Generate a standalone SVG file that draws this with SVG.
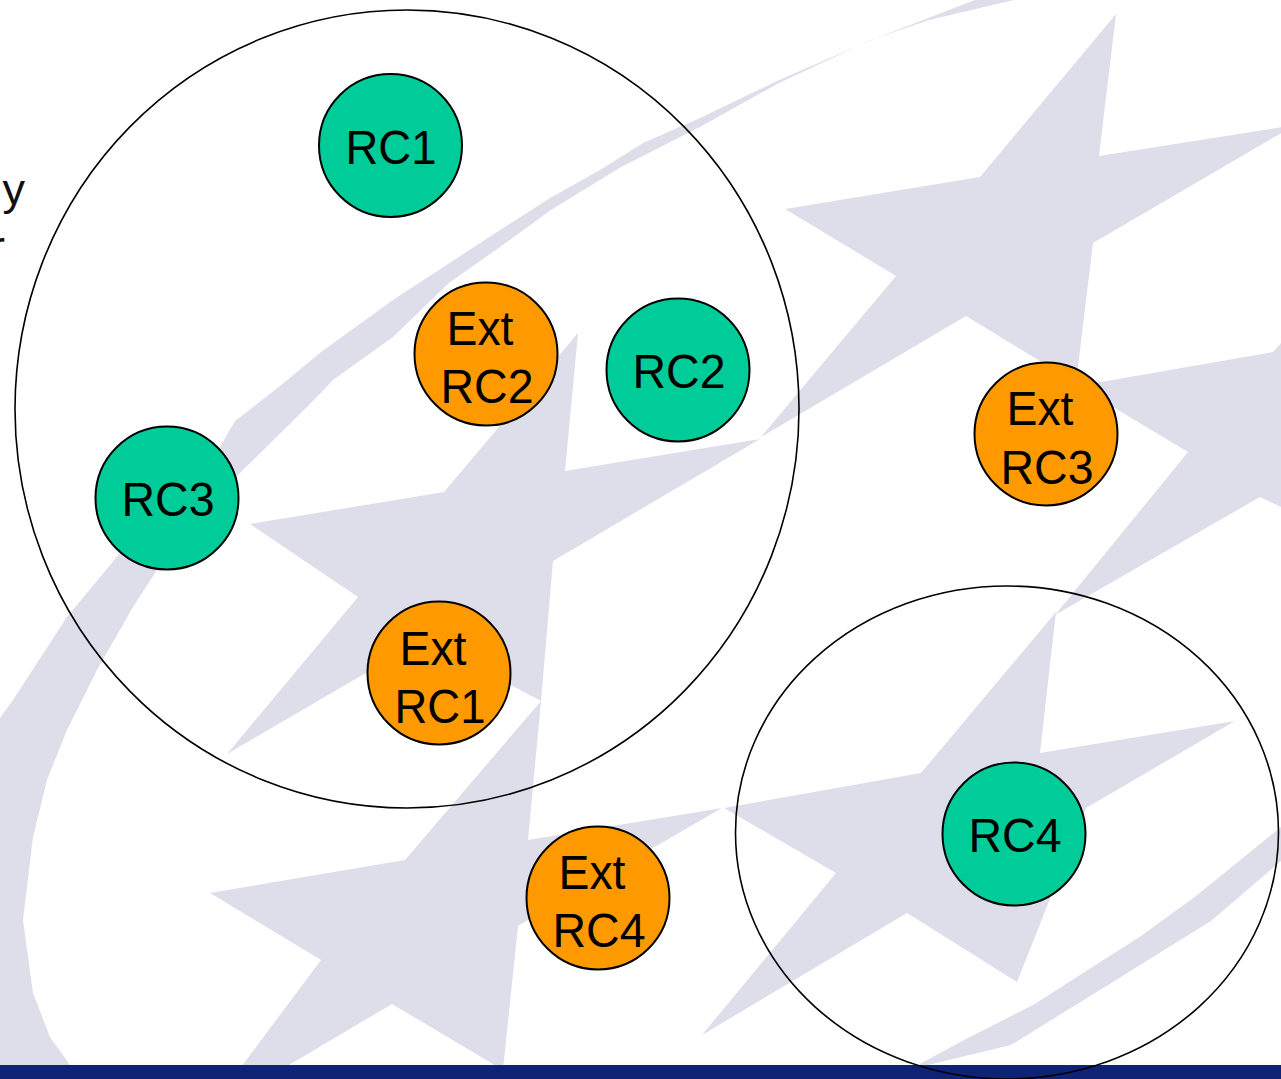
<svg xmlns="http://www.w3.org/2000/svg" width="1281" height="1079" viewBox="0 0 1281 1079">
<style>
.wm{fill:#dedeeb;stroke:none}
.grp{fill:none;stroke:#000;stroke-width:1.6}
.rc{fill:#00cc99;stroke:#000;stroke-width:2}
.ext{fill:#ff9900;stroke:#000;stroke-width:2}
.t{font-family:"Liberation Sans",Arial,Helvetica,sans-serif;font-size:48px;fill:#000;text-anchor:middle}
.frag{font-family:"Liberation Sans",Arial,Helvetica,sans-serif;font-size:45px;fill:#111;text-anchor:end}
</style>
<rect x="0" y="0" width="1281" height="1079" fill="#ffffff"/>
<g id="watermark">
<path class="wm" d="M975,0 L879,37 L779,80 L700,118 L643,143 L600,170 L550,198 L500,230 L393,300 L321,352 L280,386 L235,421 L220,447 L170,500 L120,553 L67,617 L13,700 L0,718 L0,1065 L70,1065 L50,1037 L33,993 L23,920 L33,837 L47,780 L67,730 L97,670 L133,607 L157,570 L200,520 L240,473 L316,398 L333,380 L393,337 L449,283 L500,247 L551,210 L621,167 L700,127 L779,83 L871,40 L929,20 L1014,0 Z"/>
<path class="wm" d="M1281,827 L1196,896 L1141,936 L1033,1005 L964,1040 L918,1065 L928,1065 L1011,1045 L1108,985 L1211,921 L1281,861 Z"/>
<polygon class="wm" points="1116,14 1099,156 1295,125 1093,243 1076,383 966,316 761,437 896,276 785,209 980,177"/>
<polygon class="wm" points="1078,386 1273,352 1303,318 1400,318 1400,560 1302,517 1260,497 1055,615 1188,452"/>
<polygon class="wm" points="578,333 565,471 760,439 553,561 541,701 424,639 227,754 358,597 250,524 444,492"/>
<polygon class="wm" points="541,701 528,840 722,808 518,926 503,1070 392,1004 206,1114 321,960 210,893 405,860"/>
<polygon class="wm" points="1056,612 1040,753 1235,721 1086,808 1017,982 907,913 702,1035 836,873 724,808 921,773"/>
</g>
<rect id="footer-bar" x="0" y="1065" width="1281" height="14" fill="#0e2373"/>
<g id="fragments">
<text class="frag" x="25" y="205">y</text>
<text class="frag" x="5" y="262">r</text>
</g>
<g id="connectors"></g>
<g id="group-1"><ellipse class="grp" cx="407" cy="409" rx="392" ry="399"/></g>
<g id="group-2"><ellipse class="grp" cx="1007" cy="832.5" rx="271.5" ry="246.5"/></g>
<g id="RC1"><circle class="rc" cx="390.5" cy="145.5" r="71.5"/><text class="t" x="391" y="164" textLength="91" lengthAdjust="spacingAndGlyphs">RC1</text></g>
<g id="RC2"><circle class="rc" cx="678" cy="370" r="71.5"/><text class="t" x="679" y="388" textLength="93" lengthAdjust="spacingAndGlyphs">RC2</text></g>
<g id="RC3"><circle class="rc" cx="167" cy="498" r="71.5"/><text class="t" x="168" y="516" textLength="93" lengthAdjust="spacingAndGlyphs">RC3</text></g>
<g id="RC4"><circle class="rc" cx="1014" cy="834" r="71.5"/><text class="t" x="1015" y="852" textLength="93" lengthAdjust="spacingAndGlyphs">RC4</text></g>
<g id="ExtRC2"><circle class="ext" cx="486" cy="354" r="71.5"/><text class="t" x="480" y="345" textLength="67" lengthAdjust="spacingAndGlyphs">Ext</text><text class="t" x="487" y="403" textLength="93" lengthAdjust="spacingAndGlyphs">RC2</text></g>
<g id="ExtRC1"><circle class="ext" cx="439" cy="673" r="71.5"/><text class="t" x="433" y="665" textLength="67" lengthAdjust="spacingAndGlyphs">Ext</text><text class="t" x="440" y="723" textLength="91" lengthAdjust="spacingAndGlyphs">RC1</text></g>
<g id="ExtRC3"><circle class="ext" cx="1046" cy="434" r="71.5"/><text class="t" x="1040" y="425" textLength="67" lengthAdjust="spacingAndGlyphs">Ext</text><text class="t" x="1047" y="484" textLength="93" lengthAdjust="spacingAndGlyphs">RC3</text></g>
<g id="ExtRC4"><circle class="ext" cx="598" cy="898" r="71.5"/><text class="t" x="592" y="889" textLength="67" lengthAdjust="spacingAndGlyphs">Ext</text><text class="t" x="599" y="947" textLength="93" lengthAdjust="spacingAndGlyphs">RC4</text></g>
</svg>
